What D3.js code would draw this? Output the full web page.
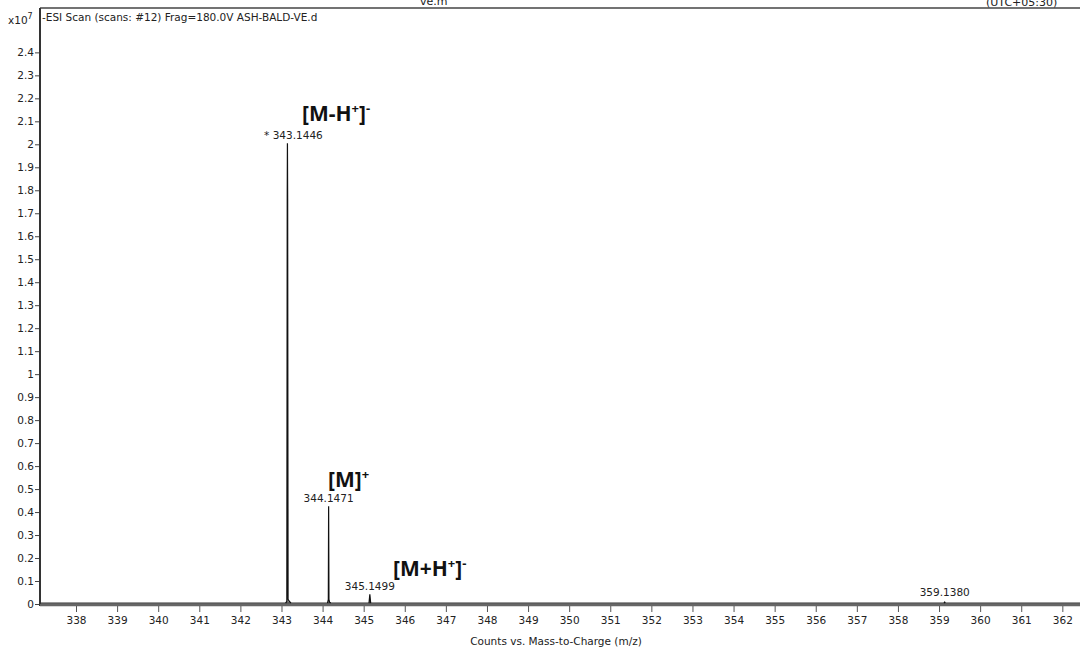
<!DOCTYPE html>
<html>
<head>
<meta charset="utf-8">
<script src="https://cdn.jsdelivr.net/npm/d3@7"></script>
<style>
    body { margin: 0; background: #fff; }
    svg { display: block; }
    text { fill: #222; }
    .tick text { font-family: "DejaVu Sans", Verdana, sans-serif; font-size: 10.5px; }
    .ion { font-family: "Open Sans", "Liberation Sans", sans-serif; font-weight: bold; font-size: 21px; fill: #111; }
</style>
</head>
<body>
<svg class="spectrum" width="1080" height="649"></svg>
<script>
// peak profiles, m/z and counts (x10^7)
var peakMz = [
    [343.10, 343.13, 343.14, 343.1446, 343.150, 343.16, 343.19, 343.23],
    [344.12, 344.14, 344.1471, 344.155, 344.17, 344.20],
    [345.13, 345.1499, 345.17],
    [359.12, 359.1380, 359.15]
];
var peakCounts = [
    [0.004, 0.012, 1.78, 2.005, 1.76, 0.02, 0.012, 0.004],
    [0.004, 0.02, 0.425, 0.02, 0.008, 0.004],
    [0.004, 0.042, 0.004],
    [0.004, 0.008, 0.004]
];
var peakLabels = ["* 343.1446", "344.1471", "345.1499", "359.1380"];
var ionLabels = [
    { base: "[M-H", sup1: "+", mid: "]", sup2: "-" },
    { base: "[M]", sup1: "", mid: "", sup2: "+" },
    { base: "[M+H", sup1: "+", mid: "]", sup2: "-" }
];
var xTicks = d3.range(338, 363);
var yTicks = d3.range(0, 25).map(function (d) { return d / 10; });

var svg = d3.select("svg.spectrum");
var x = d3.scaleLinear().domain([337.124, 362.43]).range([40, 1080]);
var y = d3.scaleLinear().domain([0, 2.593]).range([604, 8]);

// header line and clipped header text
svg.append("line")
    .attr("x1", 40).attr("x2", 1080).attr("y1", 8).attr("y2", 8)
    .attr("stroke", "#444").attr("stroke-width", 1.5);
svg.append("text").attr("x", 420).attr("y", 5)
    .style("font-family", "DejaVu Sans").style("font-size", "11px").text("ve.m");
svg.append("text").attr("x", 986).attr("y", 6)
    .style("font-family", "DejaVu Sans").style("font-size", "11px").text("(UTC+05:30)");

// y axis
var yAxis = svg.append("g")
    .attr("transform", "translate(40,0)")
    .call(d3.axisLeft(y).tickValues(yTicks).tickSize(5).tickPadding(1)
        .tickFormat(function (d) { return String(+d.toFixed(1)); }));
yAxis.select(".domain").remove();
yAxis.selectAll(".tick line").attr("stroke", "#444");
svg.append("line")
    .attr("x1", 40).attr("x2", 40).attr("y1", 8).attr("y2", 606)
    .attr("stroke", "#333").attr("stroke-width", 2);

// x axis
var xAxis = svg.append("g")
    .attr("transform", "translate(0,606)")
    .call(d3.axisBottom(x).tickValues(xTicks).tickSize(6).tickPadding(5)
        .tickFormat(d3.format("d")));
xAxis.select(".domain").remove();
xAxis.selectAll(".tick line").attr("stroke", "#555");
svg.append("line")
    .attr("x1", 40).attr("x2", 1080).attr("y1", 605).attr("y2", 605)
    .attr("stroke", "#666").attr("stroke-width", 2.5);

// baseline of the trace
svg.append("line")
    .attr("x1", x(337.124)).attr("x2", x(362.43)).attr("y1", y(0.004)).attr("y2", y(0.004))
    .attr("stroke", "#333").attr("stroke-width", 1.2);

// peaks
var line = d3.line()
    .x(function (d) { return x(d[0]); })
    .y(function (d) { return y(d[1]); });
peakMz.forEach(function (mzs, i) {
    var pts = mzs.map(function (mz, j) { return [mz, peakCounts[i][j]]; });
    svg.append("path")
        .attr("d", line(pts))
        .attr("fill", "#222")
        .attr("fill-opacity", 0.5)
        .attr("stroke", "#111")
        .attr("stroke-width", 1.2);
    var top = d3.max(peakCounts[i]);
    var lbl = peakLabels[i];
    var starOffset = lbl.charAt(0) === "*" ? 6 : 0;
    svg.append("text")
        .attr("x", x(mzs[d3.maxIndex(peakCounts[i])]) + starOffset)
        .attr("y", y(top) - 4 - (i === 3 ? 2 : 0))
        .attr("text-anchor", "middle")
        .style("font-family", "DejaVu Sans, Verdana, sans-serif")
        .style("font-size", "10.5px")
        .text(lbl);
});

// ion annotations
var ionPos = [[302, 121], [328, 487], [393, 576]];
ionLabels.forEach(function (ion, i) {
    var t = svg.append("text").attr("class", "ion")
        .attr("x", ionPos[i][0]).attr("y", ionPos[i][1]);
    t.append("tspan").text(ion.base);
    if (ion.sup1) {
        t.append("tspan").attr("dy", -8).style("font-size", "13px").text(ion.sup1);
        t.append("tspan").attr("dy", 8).text(ion.mid);
    }
    t.append("tspan").attr("dy", -8).style("font-size", "13px").text(ion.sup2);
});

// title and multiplier
svg.append("text").attr("x", 42).attr("y", 21)
    .style("font-family", "DejaVu Sans, Verdana, sans-serif").style("font-size", "10.5px")
    .text("-ESI Scan (scans: #12) Frag=180.0V ASH-BALD-VE.d");
var mult = svg.append("text").attr("x", 8).attr("y", 24)
    .style("font-family", "DejaVu Sans, Verdana, sans-serif").style("font-size", "10.5px");
mult.append("tspan").text("x10");
mult.append("tspan").attr("dy", -5).style("font-size", "8px").text("7");

svg.append("text").attr("x", 556).attr("y", 645)
    .attr("text-anchor", "middle")
    .style("font-family", "DejaVu Sans, Verdana, sans-serif").style("font-size", "10.5px")
    .text("Counts vs. Mass-to-Charge (m/z)");
</script>
</body>
</html>
